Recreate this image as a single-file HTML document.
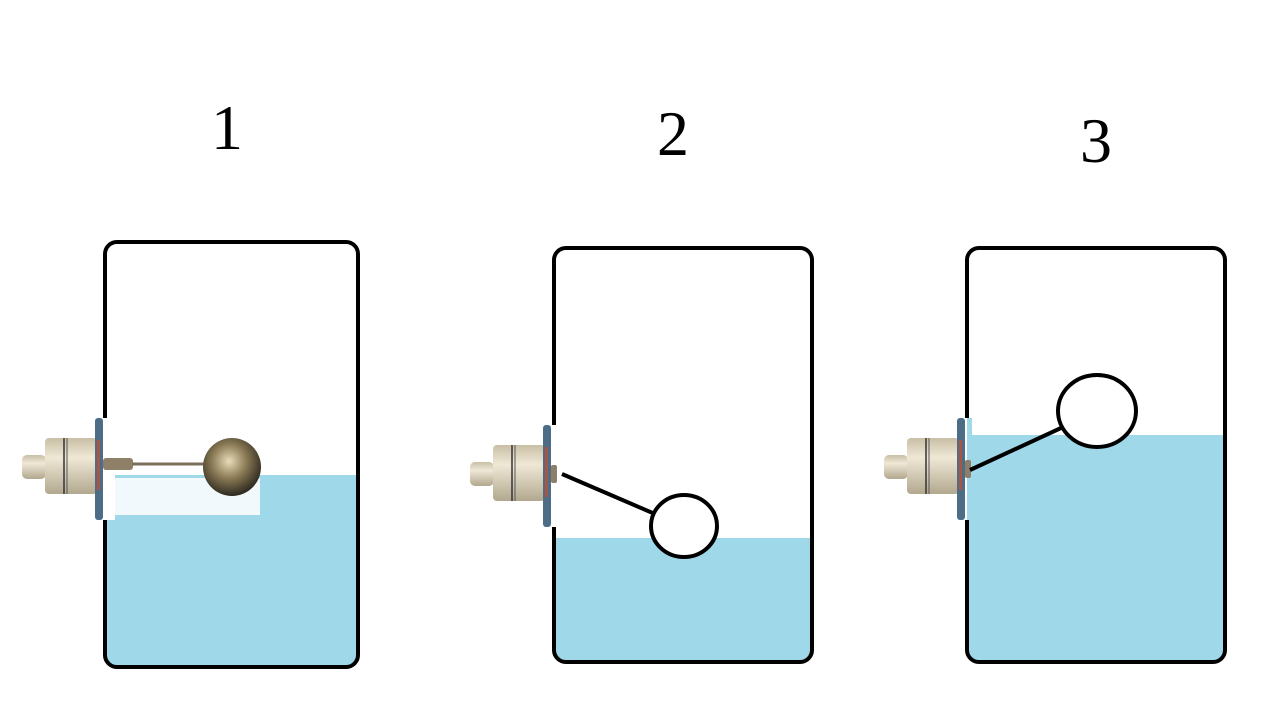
<!DOCTYPE html>
<html><head><style>html,body{margin:0;padding:0;background:#fff;width:1280px;height:720px;overflow:hidden}</style></head>
<body>
<svg width="1280" height="720" viewBox="0 0 1280 720" xmlns="http://www.w3.org/2000/svg">
<defs>
<linearGradient id="bd" x1="0" y1="0" x2="0" y2="1">
<stop offset="0" stop-color="#c9bfa6"/><stop offset="0.35" stop-color="#efe8d6"/><stop offset="1" stop-color="#b2a88f"/></linearGradient>
<radialGradient id="ball" cx="0.45" cy="0.4" r="0.6">
<stop offset="0" stop-color="#e8dcb8"/><stop offset="0.5" stop-color="#8a7a55"/><stop offset="1" stop-color="#2e2a20"/></radialGradient>
<g id="dev">
<rect x="22" y="455" width="24" height="24" rx="5" fill="url(#bd)"/>
<rect x="45" y="438" width="52" height="56" rx="4" fill="url(#bd)"/>
<line x1="64" y1="438" x2="64" y2="494" stroke="#333" stroke-width="1.5"/>
<line x1="67" y1="438" x2="67" y2="494" stroke="#555" stroke-width="1"/>
<rect x="95" y="418" width="8" height="102" rx="3" fill="#4d6c86"/>
<rect x="97" y="440" width="3" height="50" fill="#d24a2a" opacity="0.7"/>
</g>
</defs>
<g font-family="Liberation Serif, serif" font-size="64" text-anchor="middle" fill="#000">
<text x="227" y="149">1</text><text x="673" y="155">2</text><text x="1096" y="162">3</text>
</g>
<!-- tank 1 -->
<path d="M107 475 H357 V656 Q357 666 347 666 H117 Q107 666 107 656Z" fill="#9fd8e8"/>
<rect x="105" y="242" width="253" height="425" rx="12" fill="none" stroke="#000" stroke-width="4"/>
<rect x="103" y="418" width="12" height="102" fill="#fff"/>
<path d="M107 478 H260 V515 H107Z" fill="#fff" opacity="0.85"/>
<use href="#dev"/>
<rect x="103" y="458" width="30" height="12" rx="3" fill="#8d7f68"/>
<line x1="132" y1="464" x2="210" y2="464" stroke="#7a6e5a" stroke-width="3"/>
<circle cx="232" cy="467" r="29" fill="url(#ball)"/>
<!-- tank 2 -->
<path d="M555 538 H810 V651 Q810 661 800 661 H565 Q555 661 555 651Z" fill="#9fd8e8"/>
<rect x="554" y="248" width="258" height="414" rx="12" fill="none" stroke="#000" stroke-width="4"/>
<rect x="551" y="425" width="12" height="102" fill="#fff"/>
<use href="#dev" transform="translate(448,7)"/>
<rect x="551" y="465" width="6" height="18" rx="2" fill="#8d7f68"/>
<line x1="562" y1="474" x2="655" y2="514" stroke="#000" stroke-width="4"/>
<ellipse cx="684" cy="526" rx="33" ry="31" fill="#fff" stroke="#000" stroke-width="4"/>
<!-- tank 3 -->
<path d="M968 435 H1223 V651 Q1223 661 1213 661 H978 Q968 661 968 651Z" fill="#9fd8e8"/>
<rect x="967" y="248" width="258" height="414" rx="12" fill="none" stroke="#000" stroke-width="4"/>
<rect x="964" y="418" width="8" height="102" fill="#9fd8e8"/>
<rect x="964" y="418" width="3" height="102" fill="#fff"/>
<use href="#dev" transform="translate(862,0)"/>
<rect x="965" y="460" width="6" height="18" rx="2" fill="#8d7f68"/>
<line x1="970" y1="470" x2="1061" y2="428" stroke="#000" stroke-width="4"/>
<ellipse cx="1097" cy="411" rx="39" ry="36" fill="#fff" stroke="#000" stroke-width="4"/>
</svg>
</body></html>
